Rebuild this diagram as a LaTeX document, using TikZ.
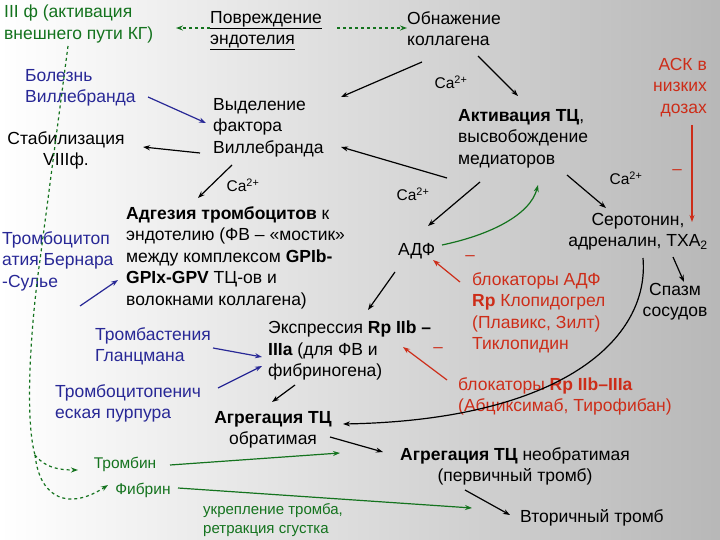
\documentclass[tikz,border=0pt]{standalone}
\usepackage{fontspec}
\setmainfont{Liberation Sans}
\usetikzlibrary{arrows.meta}
\definecolor{gr}{RGB}{20,115,30}
\definecolor{bl}{RGB}{40,40,150}
\definecolor{rd}{RGB}{205,45,25}
\begin{document}
\begin{tikzpicture}[x=1pt,y=-1pt,
  t/.style={inner sep=0,anchor=north west,align=left,font=\fontsize{17.5}{21.5}\selectfont},
  tc/.style={t,align=center,anchor=north},
  sm/.style={inner sep=0,font=\fontsize{15.5}{19}\selectfont},
  ar/.style={-{Stealth[length=7pt,width=5pt]},line width=1.2pt},
  gd/.style={gr,dashed,line width=1.2pt}]
\shade[left color=white,right color=black!28] (0,0) rectangle (720,540);
\useasboundingbox (0,0) rectangle (720,540);
% texts
\node[t,gr] (iii) at (4,5) {III ф (активация\\внешнего пути КГ)};
\node[t] (pov) at (210,11) {\underline{Повреждение}\\\underline{эндотелия}};
\node[t] (obn) at (407,11) {Обнажение\\коллагена};
\node[t,bl] (bol) at (25,69) {Болезнь\\Виллебранда};
\node[tc] (stab) at (66,131) {Стабилизация\\VIIIф.};
\node[t] (vyd) at (213,98) {Выделение\\фактора\\Виллебранда};
\node[sm] (ca1) at (451,82) {Ca\textsuperscript{2+}};
\node[t,rd,align=right,anchor=north east] (ask) at (707,58) {АСК в\\низких\\дозах};
\node[t] (akt) at (458,109) {\textbf{Активация ТЦ},\\высвобождение\\медиаторов};
\node[sm] (ca2) at (243,185) {Ca\textsuperscript{2+}};
\node[sm] (ca3) at (413,194) {Ca\textsuperscript{2+}};
\node[sm] (ca4) at (626,178) {Ca\textsuperscript{2+}};
\node[t,align=center,anchor=north east] (ser) at (708,213) {Серотонин,\\адреналин, ТХА\textsubscript{2}};
\node[t] (adf) at (398,243) {АДФ};
\node[t] (adg) at (126,206) {\textbf{Адгезия тромбоцитов} к\\эндотелию (ФВ – «мостик»\\между комплексом \textbf{GPIb-}\\\textbf{GPIx-GPV} ТЦ-ов и\\волокнами коллагена)};
\node[t,bl] (ber) at (2,231) {Тромбоцитоп\\атия Бернара\\-Сулье};
\node[tc] (spa) at (675,283) {Спазм\\сосудов};
\node[t,rd] (bad) at (472,272) {блокаторы АДФ\\\textbf{Rp} Клопидогрел\\(Плавикс, Зилт)\\Тиклопидин};
\node[t] (exp) at (268,321) {Экспрессия \textbf{Rp IIb –}\\\textbf{IIIa} (для ФВ и\\фибриногена)};
\node[t,rd] (bii) at (458,377) {блокаторы \textbf{Rp IIb–IIIa}\\(Абциксимаб, Тирофибан)};
\node[t,bl] (tgl) at (95,327) {Тромбастения\\Гланцмана};
\node[t,bl] (tpp) at (55,384) {Тромбоцитопенич\\еская пурпура};
\node[tc] (agr) at (273,411) {\textbf{Агрегация ТЦ}\\обратимая};
\node[tc] (agn) at (515,447) {\textbf{Агрегация ТЦ} необратимая\\(первичный тромб)};
\node[sm,gr] (trb) at (125,464) {Тромбин};
\node[sm,gr] (fib) at (143,490) {Фибрин};
\node[inner sep=0,anchor=north west,align=left,gr,font=\fontsize{15}{19}\selectfont] (ukr) at (203,503) {укрепление тромба,\\ретракция сгустка};
\node[t,anchor=west] (vto) at (520,518) {Вторичный тромб};
\node[rd,inner sep=0,font=\fontsize{17}{17}\selectfont] (m1) at (677,172) {–};
\node[rd,inner sep=0,font=\fontsize{17}{17}\selectfont] (m2) at (470,258) {–};
\node[rd,inner sep=0,font=\fontsize{17}{17}\selectfont] (m3) at (438,350) {–};
% connectors
\draw[ar,gd] (pov.west |- 0,28) -- (176,28);
\draw[ar,gd] (337,28) -- (obn.west |- 0,28);
\draw[ar] (422,62) -- (341,97);
\draw[ar] (478,56) -- (518,96);
\draw[ar] (447,178) -- (341,147);
\draw[ar,rd] (692,125) -- (692,222);
\draw[ar,bl] (148,97) -- (206,123);
\draw[ar] (200,153) -- (143,147);
\draw[ar] (232,165) -- (198,198);
\draw[ar] (480,182) -- (428,226);
\draw[ar] (567,175) -- (606,208);
\draw[ar,gr] (442,245) .. controls (490,235) and (530,215) .. (538,185);
\draw[ar,rd] (460,282) -- (433,260);
\draw[ar,bl] (80,306) -- (118,280);
\draw[ar] (673,257) -- (684,282);
\draw[ar] (643,258) .. controls (650,340) and (560,420) .. (343,424);
\draw[ar] (395,272) -- (368,310);
\draw[ar,rd] (447,380) -- (403,347);
\draw[ar,bl] (213,348) -- (262,357);
\draw[ar,bl] (218,388) -- (262,366);
\draw[ar] (295,385) -- (272,402);
\draw[ar] (330,437) -- (383,452);
\draw[ar,gr] (170,465) -- (340,453);
\draw[ar,gr] (178,488) -- (472,508);
\draw[ar] (465,490) -- (510,515);
\draw[gd] (68,46) -- (40,260) .. controls (30,330) and (25,420) .. (35,455);
\draw[ar,gd] (35,455) .. controls (45,468) and (60,470) .. (78,470);
\draw[ar,gd] (35,455) .. controls (40,500) and (70,510) .. (108,485);
\end{tikzpicture}
\end{document}
